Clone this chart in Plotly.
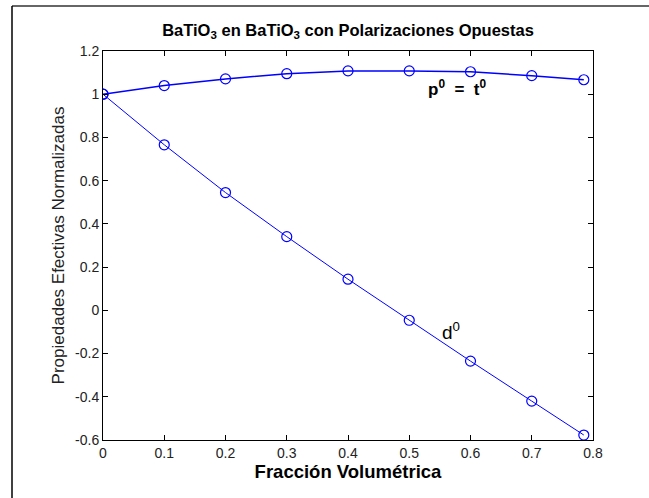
import plotly.graph_objects as go

# Volume fraction of the inclusion phase
fraccion = [0.0, 0.1, 0.2, 0.3, 0.4, 0.5, 0.6, 0.7, 0.785]
# Normalized effective properties
p_t = [1.000, 1.040, 1.071, 1.095, 1.108, 1.108, 1.104, 1.086, 1.067]
d = [1.000, 0.766, 0.545, 0.341, 0.144, -0.046, -0.235, -0.420, -0.577]

x_ticks = [0, 0.1, 0.2, 0.3, 0.4, 0.5, 0.6, 0.7, 0.8]
y_ticks = [-0.6, -0.4, -0.2, 0, 0.2, 0.4, 0.6, 0.8, 1.0, 1.2]

W, H = 649, 498
L, R, T, B = 103, 56, 51, 58
pw, ph = W - L - R, H - T - B

BLUE = "#0000ff"
FONT = "Liberation Sans, Arial, Helvetica, sans-serif"

fig = go.Figure()
fig.add_trace(go.Scatter(
    x=fraccion, y=p_t, mode="lines+markers",
    line=dict(color=BLUE, width=1.5),
    marker=dict(symbol="circle-open", size=10, color=BLUE, line=dict(width=1.2)),
    showlegend=False,
))
fig.add_trace(go.Scatter(
    x=fraccion, y=d, mode="lines+markers",
    line=dict(color=BLUE, width=1),
    marker=dict(symbol="circle-open", size=10, color=BLUE, line=dict(width=1.2)),
    showlegend=False,
))

axis_common = dict(
    showline=True, linecolor="black", linewidth=1, mirror="ticks",
    ticks="inside", ticklen=5, tickcolor="black", showgrid=False,
    zeroline=False, tickfont=dict(family=FONT, size=14, color="#222"),
)

fig.update_xaxes(range=[0, 0.8], tickvals=x_ticks,
                 ticktext=[f"{v:g}" for v in x_ticks],
                 title=dict(text="<b>Fracción Volumétrica</b>",
                            font=dict(family=FONT, size=18.5, color="black"),
                            standoff=0),
                 **axis_common)
fig.update_yaxes(range=[-0.6, 1.2], tickvals=y_ticks,
                 ticktext=[f"{v:g}" for v in y_ticks],
                 title=dict(text="Propiedades Efectivas Normalizadas",
                            font=dict(family=FONT, size=17, color="#222"),
                            standoff=6),
                 **axis_common)

fig.add_annotation(x=0.528, y=1.027, xref="x", yref="y",
                   text="<b>p<sup>0</sup>&nbsp; = &nbsp;t<sup>0</sup></b>", showarrow=False,
                   xanchor="left", yanchor="middle",
                   font=dict(family=FONT, size=17, color="black"))
fig.add_annotation(x=0.550, y=-0.095, xref="x", yref="y",
                   text="d<sup>0</sup>", showarrow=False,
                   xanchor="left", yanchor="middle",
                   font=dict(family=FONT, size=19, color="black"))

# Outer frame lines (top and left edges)
def px_x(px):
    return (px - L) / pw

def px_y(py):
    return (H - B - py) / ph

fig.add_shape(type="line", xref="paper", yref="paper",
              x0=px_x(12), x1=px_x(W + 2), y0=px_y(6), y1=px_y(6),
              line=dict(color="#666", width=2))
fig.add_shape(type="line", xref="paper", yref="paper",
              x0=px_x(12), x1=px_x(12), y0=px_y(6), y1=px_y(H + 2),
              line=dict(color="black", width=1.5))

fig.update_layout(
    width=W, height=H,
    margin=dict(l=L, r=R, t=T, b=B),
    paper_bgcolor="white", plot_bgcolor="white",
    title=dict(text="<b>BaTiO<sub>3</sub> en BaTiO<sub>3</sub> con Polarizaciones Opuestas</b>",
               x=(L + pw / 2) / W, xanchor="center",
               y=1 - 30 / H, yanchor="middle",
               font=dict(family=FONT, size=16.5, color="black")),
)

fig.write_html("out.html")
